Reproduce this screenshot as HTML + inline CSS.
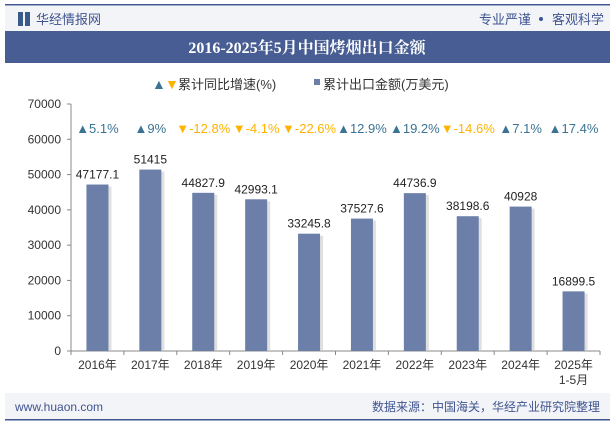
<!DOCTYPE html>
<html><head><meta charset="utf-8"><style>
body{margin:0;width:615px;height:427px;overflow:hidden;background:#fff;font-family:"Liberation Sans","Noto Sans CJK SC",sans-serif}
</style></head><body>
<svg width="615" height="427" xmlns="http://www.w3.org/2000/svg">
<rect x="5" y="4" width="605" height="1.5" fill="#3f5490"/>
<rect x="5" y="6" width="605" height="26" fill="#f3f4f8"/>
<rect x="18" y="12" width="5" height="14" fill="#3a5a8c"/><rect x="25" y="12" width="5" height="14" fill="#3a5a8c"/>
<text x="36" y="24" font-size="13" fill="#3f5490">华经情报网</text>
<text x="531" y="24" font-size="13" fill="#3f5490" text-anchor="end">专业严谨</text>
<circle cx="541" cy="19" r="2" fill="#3f5490"/>
<text x="604" y="24" font-size="13" fill="#3f5490" text-anchor="end">客观科学</text>
<rect x="5" y="31" width="605" height="32" fill="#475d93"/>
<text x="307" y="53" font-size="16" font-weight="bold" fill="#fff" text-anchor="middle" font-family="Liberation Serif,'Noto Serif CJK SC',serif">2016-2025年5月中国烤烟出口金额</text>
<g>
<text x="152" y="89" font-size="14" fill="#3a7393">▲</text><text x="165" y="89" font-size="14" fill="#ffb300">▼</text>
<text x="178" y="89" font-size="13" fill="#333">累计同比增速(%)</text>
<rect x="314" y="79" width="6" height="6" fill="#6b7fa8"/>
<text x="323" y="89" font-size="13" fill="#333">累计出口金额(万美元)</text>
</g>
<g id="axes"></g><g id="bars"></g><g id="labels"></g>
<rect x="5" y="393" width="605" height="26" fill="#f3f4f8"/>
<text x="15" y="411" font-size="12" fill="#3f5490">www.huaon.com</text>
<text x="600" y="411" font-size="12" fill="#3f5490" text-anchor="end">数据来源：中国海关，华经产业研究院整理</text>
<rect x="5" y="419" width="605" height="1.5" fill="#3f5490"/>
</svg>
<script>
const categories=["2016年","2017年","2018年","2019年","2020年","2021年","2022年","2023年","2024年","2025年"];
const values=[47177.1,51415,44827.9,42993.1,33245.8,37527.6,44736.9,38198.6,40928,16899.5];
const valueLabels=["47177.1","51415","44827.9","42993.1","33245.8","37527.6","44736.9","38198.6","40928","16899.5"];
const growth=[5.1,9,-12.8,-4.1,-22.6,12.9,19.2,-14.6,7.1,17.4];
const growthLabels=["5.1%","9%","-12.8%","-4.1%","-22.6%","12.9%","19.2%","-14.6%","7.1%","17.4%"];
const yTicks=[0,10000,20000,30000,40000,50000,60000,70000];
const NS="http://www.w3.org/2000/svg";
const x0=71,x1=600,y0=351,yTop=104,yMax=70000;
const bw=(x1-x0)/categories.length;
const xs=i=>x0+bw*(i+0.5);
const ys=v=>y0-(v/yMax)*(y0-yTop);
function mk(t,a,p,txt){const e=document.createElementNS(NS,t);for(const k in a)e.setAttribute(k,a[k]);if(txt!=null)e.textContent=txt;p.appendChild(e);return e;}
const ax=document.getElementById('axes'),bg=document.getElementById('bars'),lg=document.getElementById('labels');
const yl=mk('line',{x1:x0,y1:yTop,x2:x0,y2:y0,stroke:'#888'},ax);


const xl=mk('line',{x1:x0,y1:y0,x2:x1,y2:y0,stroke:'#888'},ax);


yTicks.forEach(t=>{mk('line',{x1:x0-4,x2:x0,y1:ys(t),y2:ys(t),stroke:'#888'},ax);
const e=mk('text',{x:x0-10,y:ys(t)+4,'font-size':12,fill:'#333','text-anchor':'end'},ax,String(t));

});
for(let i=0;i<=categories.length;i++)mk('line',{x1:x0+bw*i,x2:x0+bw*i,y1:y0,y2:y0+4,stroke:'#888'},ax);
categories.forEach((c,i)=>{
const e=mk('text',{x:xs(i),y:y0+18,'font-size':12,fill:'#333','text-anchor':'middle'},ax,c);


if(i==categories.length-1){const s=mk('text',{x:xs(i),y:y0+33,'font-size':12,fill:'#333','text-anchor':'middle'},ax,'1-5月');

}
});
values.forEach((v,i)=>{
mk('rect',{x:xs(i)-8,y:ys(v)+2,width:22,height:y0-ys(v)-2,fill:'#ccc',opacity:0.6},bg);
const r=mk('rect',{x:xs(i)-11,y:ys(v),width:22,height:y0-ys(v),fill:'#6b7fa8'},bg);


const t=mk('text',{x:xs(i),y:ys(v)-6,'font-size':12,fill:'#222','text-anchor':'middle'},lg,valueLabels[i]);


const up=growth[i]>=0;
const g=mk('text',{x:xs(i),y:133,'font-size':13,fill:up?'#3a7393':'#ffb300','text-anchor':'middle'},lg,(up?'▲':'▼')+growthLabels[i]);


});
</script>
</body></html>
